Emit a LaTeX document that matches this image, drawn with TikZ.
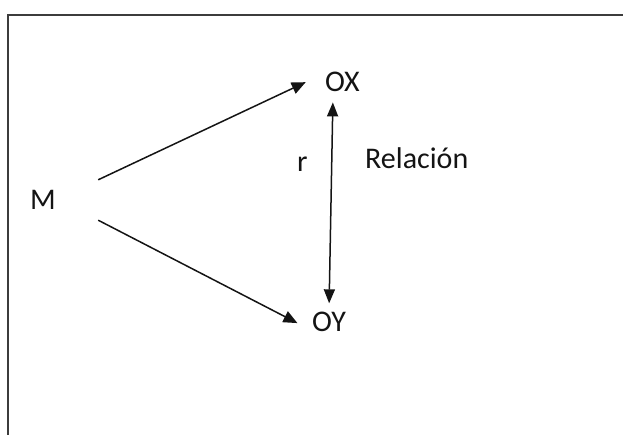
\documentclass[tikz,border=0pt]{standalone}
\usepackage{fontspec}
\setmainfont{Carlito}
\usetikzlibrary{arrows.meta}
\definecolor{ink}{HTML}{141414}
\definecolor{framegray}{HTML}{3C3C3C}
\begin{document}
\begin{tikzpicture}[x=1pt,y=-1pt,every node/.style={font=\fontsize{30}{36}\selectfont,text=ink,inner sep=3pt},lbl/.style={anchor=base west},arr/.style={-{Triangle[length=14pt,width=12pt]},line width=1.5pt,draw=ink},dbl/.style={{Triangle[length=14pt,width=11pt]}-{Triangle[length=14pt,width=11pt]},line width=1.5pt,draw=ink}]
\useasboundingbox (0,0) rectangle (623,435);
% frame, cut at the right and bottom
\draw[framegray,line width=2pt] (623,15) -- (8,15) -- (8,435);
\node[minimum width=110pt,minimum height=40pt] (m) at (43,200) {M};
\node[lbl] (ox) at (322,92) {OX};
\node[lbl] (oy) at (309,331) {OY};
\node[lbl] (r) at (294,172) {r};
\node[lbl] (rel) at (362,169) {Relación};
\draw[arr,shorten >=18pt] (m.north east) -- (ox.159);
\draw[arr,shorten >=13pt] (m.south east) -- (oy.201);
\draw[dbl,shorten <=7pt,shorten >=5pt] (ox.234) -- (oy.north);
\end{tikzpicture}
\end{document}
